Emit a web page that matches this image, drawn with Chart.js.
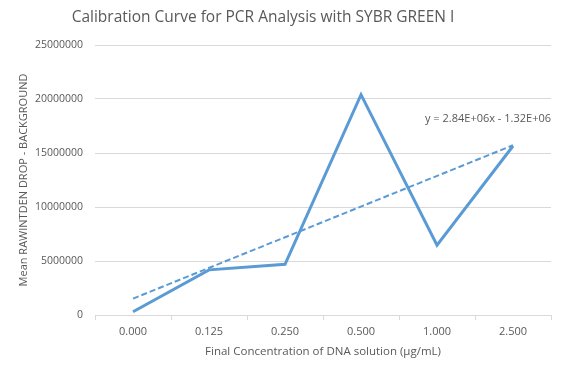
<!DOCTYPE html>
<html>
<head>
<meta charset="utf-8">
<script src="https://cdn.jsdelivr.net/npm/chart.js@4"></script>
<style>
  html, body { margin: 0; padding: 0; background: #fff; }
  #wrap { width: 561px; height: 373px; }
</style>
</head>
<body>
<div id="wrap"><canvas id="myChart" width="561" height="373"></canvas></div>
<script>
const categories = ['0.000', '0.125', '0.250', '0.500', '1.000', '2.500'];
const rawValues = [300000, 4180000, 4700000, 20400000, 6460000, 15650000];
// trendline end points as drawn (y = 2.84E+06x - 1.32E+06)
const trendValues = [1520000, null, null, null, null, 15720000];
const trendLabel = 'y = 2.84E+06x - 1.32E+06';
const chartTitle = 'Calibration Curve for PCR Analysis with SYBR GREEN I';
const yTitle = 'Mean RAWINTDEN DROP - BACKGROUND';

const textColor = '#595959';
const gridColor = '#d9d9d9';
const lineColor = '#5b9bd5';
const fontFamily = "'Open Sans', 'Liberation Sans', sans-serif";

// title, y axis title and trendline equation drawn by hand so they sit where Excel puts them
const textPlugin = {
    id: 'texts',
    afterDatasetsDraw(chart) {
        const ctx = chart.ctx;
        const area = chart.chartArea;
        ctx.save();
        ctx.fillStyle = textColor;
        ctx.textBaseline = 'middle';

        ctx.font = '15.5px ' + fontFamily;
        ctx.textAlign = 'center';
        ctx.fillText(chartTitle, 263, 18);

        ctx.save();
        ctx.translate(24, (area.top + area.bottom) / 2);
        ctx.rotate(-Math.PI / 2);
        ctx.font = '11px ' + fontFamily;
        ctx.fillText(yTitle, 0, 0);
        ctx.restore();

        const y = chart.scales.y.getPixelForValue(18200000);
        ctx.font = '11px ' + fontFamily;
        ctx.textAlign = 'right';
        ctx.fillText(trendLabel, area.right, y);
        ctx.restore();
    }
};

const ctx = document.getElementById('myChart').getContext('2d');
const myChart = new Chart(ctx, {
    type: 'line',
    data: {
        labels: categories,
        datasets: [{
            label: 'Mean',
            data: rawValues,
            borderColor: lineColor,
            borderWidth: 3,
            pointRadius: 0,
            tension: 0,
            fill: false
        }, {
            label: 'Linear',
            data: trendValues,
            borderColor: lineColor,
            borderWidth: 2,
            borderDash: [6, 3],
            pointRadius: 0,
            spanGaps: true,
            fill: false
        }]
    },
    options: {
        responsive: false,
        animation: false,
        layout: { padding: { left: 23, right: 10, top: 45, bottom: 14 } },
        plugins: {
            legend: { display: false },
            tooltip: { enabled: false },
            title: { display: false }
        },
        scales: {
            x: {
                offset: true,
                grid: {
                    offset: true,
                    drawOnChartArea: false,
                    color: gridColor,
                    tickLength: 5
                },
                border: { color: gridColor },
                ticks: { color: textColor, font: { family: fontFamily, size: 11 }, padding: 5 },
                title: {
                    display: true,
                    text: 'Final Concentration of DNA solution (µg/mL)',
                    color: textColor,
                    font: { family: fontFamily, size: 11.5 },
                    padding: { top: 2, bottom: 0 }
                }
            },
            y: {
                min: 0,
                max: 25000000,
                ticks: {
                    stepSize: 5000000,
                    color: textColor,
                    font: { family: fontFamily, size: 10.5 },
                    padding: 12,
                    callback: v => String(v)
                },
                grid: { color: gridColor, drawTicks: false },
                border: { display: false }
            }
        }
    },
    plugins: [textPlugin]
});
</script>
</body>
</html>
